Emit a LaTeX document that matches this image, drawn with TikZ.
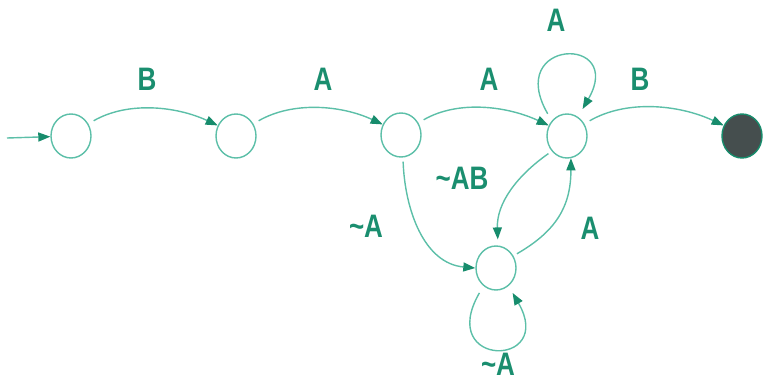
\documentclass[tikz,border=0pt]{standalone}
\usepackage{fontspec}
\usepackage{graphicx}
\setmainfont{Liberation Sans}
\usetikzlibrary{arrows.meta,shapes.geometric}
\definecolor{edgecol}{HTML}{5CBFA8}
\definecolor{tipcol}{HTML}{178C6C}
\definecolor{labcol}{HTML}{1A8E6F}
\definecolor{finalcol}{HTML}{454E4E}
\newcommand{\lbltxt}[1]{\scalebox{1}[1.25]{#1}}
\begin{document}
\begin{tikzpicture}[x=1pt,y=-1pt,
  state/.style={draw=edgecol,line width=1.4pt,ellipse,minimum width=40pt,minimum height=44pt,inner sep=0pt},
  accept/.style={state,fill=finalcol,draw=tipcol},
  trans/.style={draw=edgecol,line width=1.4pt,-{Triangle[length=12pt,width=9pt,fill=tipcol,color=tipcol]}},
  lab/.style={text=labcol,font=\fontsize{26}{26}\selectfont\bfseries,inner sep=0pt}]
\useasboundingbox (0,0) rectangle (763,381);
\node[state] (s0) at (71,136) {};
\node[state] (s1) at (236,136) {};
\node[state] (s2) at (401,135) {};
\node[state] (s3) at (567,136) {};
\node[accept] (f) at (742,136) {};
\node[state] (s4) at (496,268) {};
\coordinate (start) at (7,138);
\draw[trans] (start) -- (s0);
\draw[trans,shorten <=6pt] (s0.35) to[out=30,in=155,looseness=0.9] (s1.150);
\draw[trans,shorten <=6pt] (s1.35) to[out=30,in=155,looseness=0.9] (s2.150);
\draw[trans,shorten <=6pt] (s2.35) to[out=30,in=155,looseness=0.9] (s3.150);
\draw[trans,shorten <=6pt] (s3.35) to[out=30,in=155,looseness=0.9] (f.150);
\draw[trans,shorten <=8pt,shorten >=9pt] (s3.135) .. controls +(-120:95) and +(-60:95) .. (s3.60);
\draw[trans,shorten <=4pt] (s2.-85) to[out=-88,in=175,looseness=1] (s4.180);
\draw[trans,shorten <=4pt,shorten >=6pt] (s3.225) to[out=215,in=92,looseness=1] (s4.85);
\draw[trans,shorten <=4pt] (s4.35) to[out=30,in=-90,looseness=1.1] (s3.-80);
\draw[trans,shorten <=8pt,shorten >=8pt] (s4.-125) .. controls +(120:95) and +(60:95) .. (s4.-55);
\node[lab] (l1) at (147,79) {\lbltxt{B}};
\node[lab] (l2) at (323,79) {\lbltxt{A}};
\node[lab] (l3) at (489,79) {\lbltxt{A}};
\node[lab] (l4) at (556,20) {\lbltxt{A}};
\node[lab] (l5) at (640,79) {\lbltxt{B}};
\node[lab] (l6) at (462,178) {\lbltxt{\char`\~AB}};
\node[lab] (l7) at (366,226) {\lbltxt{\char`\~A}};
\node[lab] (l8) at (590,228) {\lbltxt{A}};
\node[lab] (l9) at (498,364) {\lbltxt{\char`\~A}};
\end{tikzpicture}
\end{document}
